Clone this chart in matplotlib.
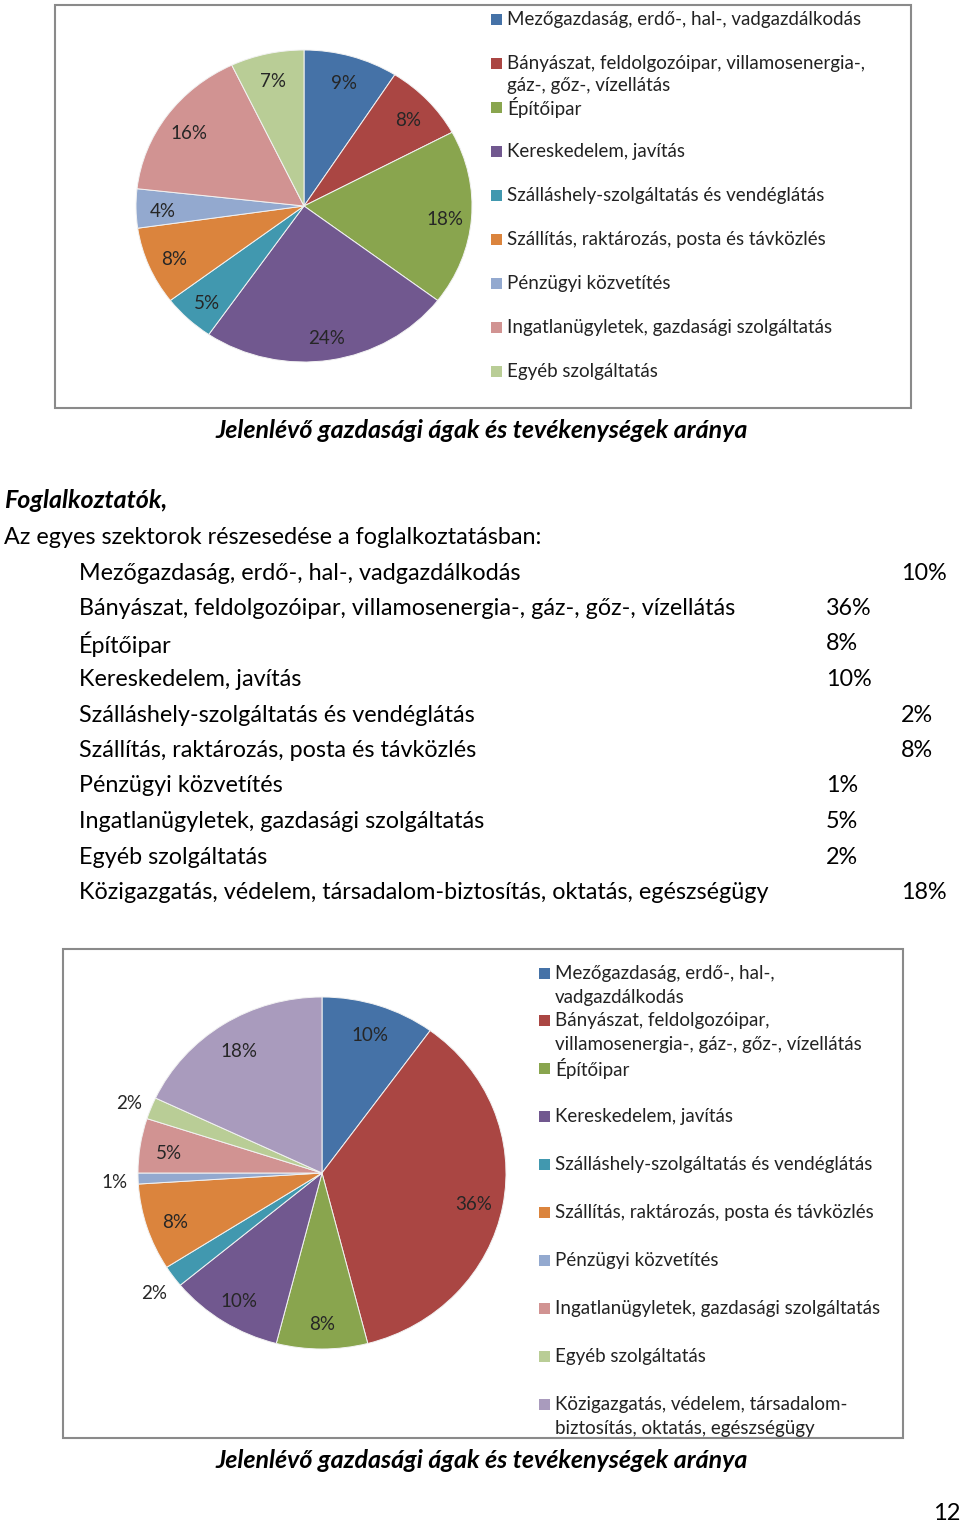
import numpy as np
import matplotlib
matplotlib.use("Agg")
import matplotlib.pyplot as plt
from matplotlib.patches import Rectangle

plt.rcParams['font.family'] = ['Lato', 'DejaVu Sans']

# ADATOK
felso_cimkek = [
    "Mezőgazdaság, erdő-, hal-, vadgazdálkodás",
    "Bányászat, feldolgozóipar, villamosenergia-,\ngáz-, gőz-, vízellátás",
    "Építőipar",
    "Kereskedelem, javítás",
    "Szálláshely-szolgáltatás és vendéglátás",
    "Szállítás, raktározás, posta és távközlés",
    "Pénzügyi közvetítés",
    "Ingatlanügyletek, gazdasági szolgáltatás",
    "Egyéb szolgáltatás",
]
felso_ertekek = [9, 8, 18, 24, 5, 8, 4, 16, 7]

also_cimkek = [
    "Mezőgazdaság, erdő-, hal-,\nvadgazdálkodás",
    "Bányászat, feldolgozóipar,\nvillamosenergia-, gáz-, gőz-, vízellátás",
    "Építőipar",
    "Kereskedelem, javítás",
    "Szálláshely-szolgáltatás és vendéglátás",
    "Szállítás, raktározás, posta és távközlés",
    "Pénzügyi közvetítés",
    "Ingatlanügyletek, gazdasági szolgáltatás",
    "Egyéb szolgáltatás",
    "Közigazgatás, védelem, társadalom-\nbiztosítás, oktatás, egészségügy",
]
also_ertekek = [10, 36, 8, 10, 2, 8, 1, 5, 2, 18]

tabla_nevek = [
    "Mezőgazdaság, erdő-, hal-, vadgazdálkodás",
    "Bányászat, feldolgozóipar, villamosenergia-, gáz-, gőz-, vízellátás",
    "Építőipar",
    "Kereskedelem, javítás",
    "Szálláshely-szolgáltatás és vendéglátás",
    "Szállítás, raktározás, posta és távközlés",
    "Pénzügyi közvetítés",
    "Ingatlanügyletek, gazdasági szolgáltatás",
    "Egyéb szolgáltatás",
    "Közigazgatás, védelem, társadalom-biztosítás, oktatás, egészségügy",
]
tabla_szazalek = [10, 36, 8, 10, 2, 8, 1, 5, 2, 18]
tabla_oszlop = [2, 1, 1, 1, 2, 2, 1, 1, 1, 2]

szinek = ['#4572A7', '#AA4643', '#89A54E', '#71588F', '#4198AF',
          '#DB843D', '#93A9CF', '#D19392', '#B9CD96', '#A99BBD']

cim = "Jelenlévő gazdasági ágak és tevékenységek aránya"

W, H = 960, 1525
fig = plt.figure(figsize=(W / 100, H / 100), dpi=100)
fig.patch.set_facecolor('white')

# teljes oldal, pixel koordinatak
lap = fig.add_axes([0, 0, 1, 1])
lap.set_xlim(0, W)
lap.set_ylim(H, 0)
lap.axis('off')


def kor(cx, cy, rx, ry, ertekek, kint=()):
    ax = fig.add_axes([(cx - rx) / W, 1 - (cy + ry) / H, 2 * rx / W, 2 * ry / H])
    wedges, _ = ax.pie(ertekek, colors=szinek[:len(ertekek)], startangle=90,
                       counterclock=False, radius=1,
                       wedgeprops=dict(edgecolor='#f2f2f2', linewidth=0.7))
    ax.set_aspect('auto')
    ax.set_xlim(-1, 1)
    ax.set_ylim(-1, 1)
    for i, (w, v) in enumerate(zip(wedges, ertekek)):
        mid = np.deg2rad((w.theta1 + w.theta2) / 2)
        d = 1.13 if i in kint else 0.84
        ax.text(d * np.cos(mid), d * np.sin(mid) - 0.02, f"{v}%", ha='center', va='center',
                fontsize=13.5, color='#262626', clip_on=False)
    return ax


def jelmagyarazat(x, y0, lepes, sor, cimkek):
    for i, c in enumerate(cimkek):
        y = y0 + i * lepes
        lap.add_patch(Rectangle((x, y - 5.5), 11, 11, color=szinek[i], lw=0))
        for k, s in enumerate(c.split('\n')):
            lap.text(x + 16, y + k * sor, s, ha='left', va='center',
                     fontsize=13.5, color='#222222')


# felso diagram
lap.add_patch(Rectangle((55, 5), 856, 403, fill=False, edgecolor='#8a8a8a', lw=1.5))
kor(304, 206, 168, 156, felso_ertekek)
jelmagyarazat(491, 19, 44, 23, felso_cimkek)
lap.text(482, 430, cim, ha='center', va='center', fontsize=18,
         fontweight='bold', fontstyle='italic')

# szoveg
lap.text(4, 501, "Foglalkoztatók,", ha='left', va='center', fontsize=18,
         fontweight='bold', fontstyle='italic')
lap.text(4, 537, "Az egyes szektorok részesedése a foglalkoztatásban:", ha='left',
         va='center', fontsize=16.8)
for i, (n, p, o) in enumerate(zip(tabla_nevek, tabla_szazalek, tabla_oszlop)):
    y = 573 + i * 35.5
    lap.text(79, y, n, ha='left', va='center', fontsize=16.8)
    lap.text(826 if o == 1 else 901, y, f"{p}%", ha='left', va='center', fontsize=16.8)

# also diagram
lap.add_patch(Rectangle((63, 949), 840, 489, fill=False, edgecolor='#8a8a8a', lw=1.5))
kor(322, 1173, 184, 176, also_ertekek, kint=(4, 6, 8))
jelmagyarazat(539, 973, 47.9, 24, also_cimkek)
lap.text(482, 1460, cim, ha='center', va='center', fontsize=18,
         fontweight='bold', fontstyle='italic')

lap.text(960, 1513, "12", ha='right', va='center', fontsize=17)

plt.savefig('out.png', dpi=100)
